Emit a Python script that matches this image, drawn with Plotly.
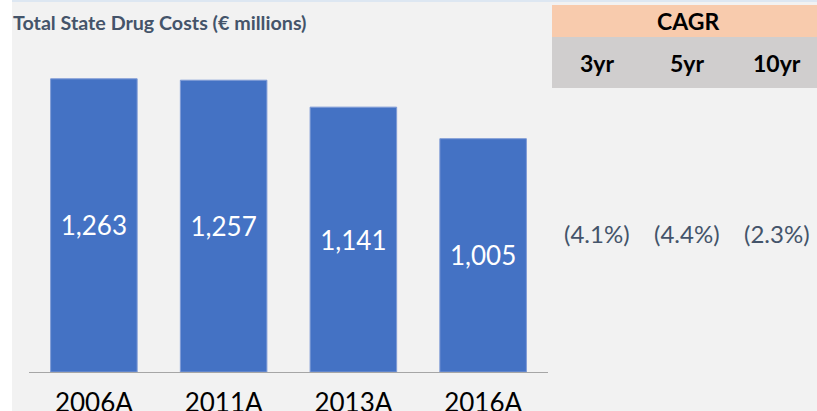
import plotly.graph_objects as go

# Chart data
years = ["2006A", "2011A", "2013A", "2016A"]
costs = [1263, 1257, 1141, 1005]

cagr_periods = ["3yr", "5yr", "10yr"]
cagr_values = ["(4.1%)", "(4.4%)", "(2.3%)"]

# Figure geometry (pixels)
W, H = 817, 411
ML, MR, MT, MB = 29, 269, 60, 39
PW = W - ML - MR
PH = H - MT - MB


def px_x(px):
    return (px - ML) / PW


def px_y(py):
    return (H - MB - py) / PH


FONT = "Lato"
SLATE = "#44546a"

fig = go.Figure(
    go.Bar(
        x=years,
        y=costs,
        text=[f"{v:,}" for v in costs],
        textposition="inside",
        insidetextanchor="middle",
        textangle=0,
        textfont=dict(family=FONT, size=26, color="white"),
        marker=dict(color="#4472c4", line=dict(color="#7f9bd6", width=1)),
        hoverinfo="skip",
    )
)

shapes = [
    # white strip along left edge
    dict(type="rect", xref="paper", yref="paper",
         x0=px_x(0), x1=px_x(12), y0=px_y(H), y1=px_y(0),
         fillcolor="white", line=dict(width=0), layer="below"),
    # thin top rule
    dict(type="rect", xref="paper", yref="paper",
         x0=px_x(12), x1=px_x(W), y0=px_y(2), y1=px_y(0),
         fillcolor="#dde7f2", line=dict(width=0), layer="below"),
    # CAGR header
    dict(type="rect", xref="paper", yref="paper",
         x0=px_x(552), x1=px_x(W), y0=px_y(37), y1=px_y(5),
         fillcolor="#f8cbad", line=dict(width=0), layer="below"),
    # period row
    dict(type="rect", xref="paper", yref="paper",
         x0=px_x(552), x1=px_x(W), y0=px_y(88), y1=px_y(37),
         fillcolor="#d0cece", line=dict(width=0), layer="below"),
]

annotations = [
    dict(text="<b>Total State Drug Costs (€ millions)</b>", xref="paper", yref="paper",
         x=px_x(11), y=px_y(22), xanchor="left", yanchor="middle", showarrow=False,
         font=dict(family=FONT, size=19.7, color=SLATE)),
    dict(text="<b>CAGR</b>", xref="paper", yref="paper",
         x=px_x(688), y=px_y(21), xanchor="center", yanchor="middle", showarrow=False,
         font=dict(family=FONT, size=23, color="black")),
]

col_x = [597, 687, 777]
for cx, period, val in zip(col_x, cagr_periods, cagr_values):
    annotations.append(dict(
        text=f"<b>{period}</b>", xref="paper", yref="paper",
        x=px_x(cx), y=px_y(63), xanchor="center", yanchor="middle", showarrow=False,
        font=dict(family=FONT, size=23, color="black")))
    annotations.append(dict(
        text=val, xref="paper", yref="paper",
        x=px_x(cx), y=px_y(233), xanchor="center", yanchor="middle", showarrow=False,
        font=dict(family=FONT, size=24, color=SLATE)))

fig.update_layout(
    width=W, height=H,
    margin=dict(l=ML, r=MR, t=MT, b=MB, pad=0),
    paper_bgcolor="#f2f2f2",
    plot_bgcolor="#f2f2f2",
    bargap=0.333,
    showlegend=False,
    shapes=shapes,
    annotations=annotations,
    xaxis=dict(
        showline=True, linecolor="#a6a6a6", linewidth=1,
        ticks="", showgrid=False, zeroline=False, automargin=False,
        tickfont=dict(family=FONT, size=26, color="black"),
        ticklabelstandoff=8,
    ),
    yaxis=dict(
        range=[0, 1344], visible=False, showgrid=False, zeroline=False,
        automargin=False,
    ),
)

fig.write_html("out.html")
